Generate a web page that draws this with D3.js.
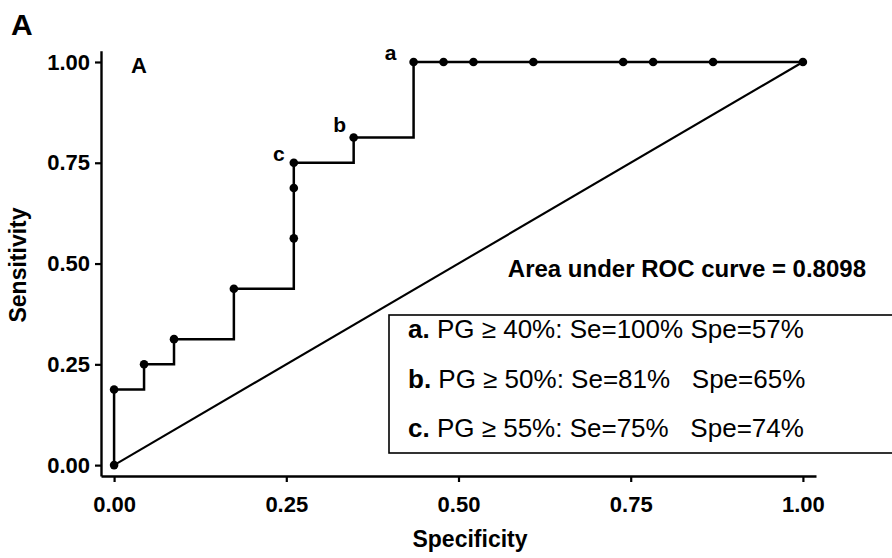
<!DOCTYPE html>
<html>
<head>
<meta charset="utf-8">
<script src="https://cdn.jsdelivr.net/npm/d3@7"></script>
<style>
  body { margin: 0; background: #fff; }
  svg { display: block; font-family: "Liberation Sans", Arial, Helvetica, sans-serif; }
</style>
</head>
<body>
<div id="roc_plot"></div>
<script>
// ROC points (1 - specificity on x, sensitivity on y)
var specVals = [0, 0, 0.0435, 0.087, 0.1739, 0.2609, 0.2609, 0.2609, 0.3478, 0.4348, 0.4783, 0.5217, 0.6087, 0.7391, 0.7826, 0.8696, 1]
var sensVals = [0, 0.1875, 0.25, 0.3125, 0.4375, 0.5625, 0.6875, 0.75, 0.8125, 1, 1, 1, 1, 1, 1, 1, 1]
var tickVals = [0, 0.25, 0.5, 0.75, 1]
var cutLabels = [{idx: 9, txt: "a"}, {idx: 8, txt: "b"}, {idx: 7, txt: "c"}]
var aucText = "Area under ROC curve = 0.8098"
var legendBold = ["a.", "b.", "c."]
var legendRest = [" PG \u2265 40%: Se=100% Spe=57%", " PG \u2265 50%: Se=81%\u00a0\u00a0 Spe=65%", " PG \u2265 55%: Se=75%\u00a0\u00a0 Spe=74%"]

var width = 892, height = 558
var ink = "#000"

const svg = d3.select("#roc_plot").append("svg").attr("width", width).attr("height", height)

//scales
var x = d3.scaleLinear().domain([-0.019, 1.019]).range([101, 816])
var y = d3.scaleLinear().domain([-0.027, 1.028]).range([476, 50.7])

//axes
var xAxis = g => (
	g.attr("transform", "translate(0,476)")
	.call(d3.axisBottom(x).tickValues(tickVals).tickFormat(d3.format(".2f")).tickSize(6).tickSizeOuter(0).tickPadding(14))
)
var yAxis = g => (
	g.attr("transform", "translate(101,0)")
	.call(d3.axisLeft(y).tickValues(tickVals).tickFormat(d3.format(".2f")).tickSize(6).tickSizeOuter(0).tickPadding(5))
)
svg.append("g").call(xAxis)
svg.append("g").call(yAxis)
svg.selectAll(".domain").attr("stroke", ink).attr("stroke-width", 2.4)
svg.selectAll(".tick line").attr("stroke", ink).attr("stroke-width", 2.2)
svg.selectAll(".tick text").attr("fill", ink).attr("font-size", 22).attr("font-weight", "bold")
	.attr("font-family", "'Liberation Sans', Arial, sans-serif")

//reference diagonal
svg.append("line")
	.attr("x1", x(0)).attr("y1", y(0))
	.attr("x2", x(1)).attr("y2", y(1))
	.attr("stroke", ink).attr("stroke-width", 2.1)

//step curve
var pts = specVals.map((d, i) => [d, sensVals[i]])
var line = d3.line().x(d => x(d[0])).y(d => y(d[1])).curve(d3.curveStepAfter)
svg.append("path")
	.attr("d", line(pts))
	.attr("fill", "none").attr("stroke", ink).attr("stroke-width", 2.5)

//points
svg.append("g").attr("fill", ink)
	.selectAll("circle")
	.data(pts)
	.join("circle")
	.attr("cx", d => x(d[0]))
	.attr("cy", d => y(d[1]))
	.attr("r", 4.3)

//cut-off labels
var offs = {a: [-23, -2], b: [-14, -6], c: [-15, -2]}
svg.append("g")
	.selectAll("text")
	.data(cutLabels)
	.join("text")
	.attr("x", d => x(specVals[d.idx]) + offs[d.txt][0])
	.attr("y", d => y(sensVals[d.idx]) + offs[d.txt][1])
	.attr("text-anchor", "middle")
	.attr("font-size", 21).attr("font-weight", "bold")
	.text(d => d.txt)

//panel titles
svg.append("text").attr("x", 11).attr("y", 35)
	.attr("font-size", 30).attr("font-weight", "bold").text("A")
svg.append("text").attr("x", 139).attr("y", 73).attr("text-anchor", "middle")
	.attr("font-size", 22).attr("font-weight", "bold").text("A")

//AUC
svg.append("text").attr("x", 866).attr("y", 277).attr("text-anchor", "end")
	.attr("font-size", 24).attr("font-weight", "bold").text(aucText)

//legend box
svg.append("rect").attr("x", 389).attr("y", 315).attr("width", 520).attr("height", 138)
	.attr("fill", "none").attr("stroke", ink).attr("stroke-width", 1.6)
var leg = svg.append("g")
	.selectAll("text")
	.data(legendBold)
	.join("text")
	.attr("x", 408)
	.attr("y", (d, i) => 338 + i * 49.5)
	.attr("font-size", 26)
leg.append("tspan").attr("font-weight", "bold").text(d => d)
leg.append("tspan").text((d, i) => legendRest[i])

//axis labels
svg.append("text").attr("x", 470).attr("y", 547).attr("text-anchor", "middle")
	.attr("font-size", 23).attr("font-weight", "bold").text("Specificity")
svg.append("text").attr("transform", "translate(26,265) rotate(-90)").attr("text-anchor", "middle")
	.attr("font-size", 23).attr("font-weight", "bold").text("Sensitivity")
</script>
</body>
</html>
